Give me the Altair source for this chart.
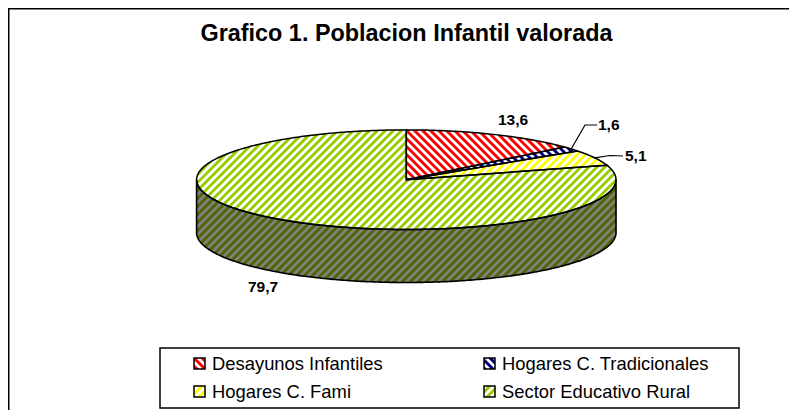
import numpy as np
import altair as alt

# ---- data ----
TITLE = "Grafico 1. Poblacion Infantil valorada"
CATEGORIES = ["Desayunos Infantiles", "Hogares C. Tradicionales", "Hogares C. Fami", "Sector Educativo Rural"]
VALUES = [13.6, 1.6, 5.1, 79.7]
VALUE_LABELS = ["13,6", "1,6", "5,1", "79,7"]
COLORS = ["#ff0000", "#000080", "#ffff00", "#99cc00"]
STRIPE_COLORS = ["#ffffff", "#ffffff", "#ffffff", "#ffffff"]
STRIPE_DIRS = [-1, -1, 1, 1]
WALL_COLOR = "#4f6600"
WALL_STRIPE = "#808080"

W, H = 781, 402
OX, OY = 8, 8           # page margin
CX, CY, RX, RY, DEPTH = 406.3 - OX, 179.7 - OY, 209.7, 49.8, 53.0
PERIOD, STRIPE_W = 8.0, 2.8

LABEL_X = [498 - OX, 598 - OX, 625 - OX, 248 - OX]
LABEL_Y = [120 - OY, 125 - OY, 156 - OY, 287 - OY]
LEGEND_BOX = [160 - OX, 348 - OY, 739 - OX, 408 - OY]
LEGEND_X = [194 - OX, 484 - OX, 194 - OX, 484 - OX]
LEGEND_Y = [363.5 - OY, 363.5 - OY, 391.5 - OY, 391.5 - OY]
SWATCH = 11


def ell(theta, dy=0.0):
    t = np.radians(theta)
    return (CX + RX * np.sin(t), CY - RY * np.cos(t) + dy)


def arc(a, b, dy=0.0):
    return [ell(t, dy) for t in np.linspace(a, b, max(3, int(abs(b - a) * 1.5)))]


def feat(kind, coords, fill="transparent", stroke="transparent", sw=0.0):
    return {"type": "Feature", "properties": {"fill": fill, "stroke": stroke, "sw": sw},
            "geometry": {"type": kind, "coordinates": coords}}


def poly(points, **kw):
    pts = [list(map(float, p)) for p in points]
    return feat("Polygon", [pts + [pts[0]]], **kw)


def line(points, **kw):
    return feat("LineString", [list(map(float, p)) for p in points], **kw)


def stripes(points, direction, color):
    """Hatch lines of a polygon: a line y = direction*-x + c cut along the polygon's edges."""
    pts = np.array(points, dtype=float)
    nxt = np.roll(pts, -1, axis=0)
    key = lambda p: p[..., 1] + direction * p[..., 0]
    ka, kb = key(pts), key(nxt)
    segs = []
    for c in np.arange(np.floor(ka.min() / PERIOD) * PERIOD, ka.max() + PERIOD, PERIOD):
        hits = []
        for i in range(len(pts)):
            if (ka[i] - c) * (kb[i] - c) < 0:
                f = (c - ka[i]) / (kb[i] - ka[i])
                hits.append(pts[i] + f * (nxt[i] - pts[i]))
        hits.sort(key=lambda p: p[0])
        for j in range(0, len(hits) - 1, 2):
            segs.append([[float(v) for v in hits[j]], [float(v) for v in hits[j + 1]]])
    return feat("MultiLineString", segs, stroke=color, sw=STRIPE_W) if segs else None


features = []
outlines = []

# side wall
wall = arc(90, 270) + arc(270, 90, DEPTH)
features.append(poly(wall, fill=WALL_COLOR))
features.append(stripes(wall, 1, WALL_STRIPE))
outlines.append(poly(wall, stroke="#000000", sw=1.6))

# top slices
angles = np.cumsum([0.0] + [v * 3.6 for v in VALUES])
for i, v in enumerate(VALUES):
    a, b = angles[i], angles[i + 1]
    s = [(CX, CY)] + arc(a, b)
    features.append(poly(s, fill=COLORS[i]))
    features.append(stripes(s, STRIPE_DIRS[i], STRIPE_COLORS[i]))
    outlines.append(poly(s, stroke="#000000", sw=1.5))

# leader lines, from the middle of each small slice's arc
mid = lambda i: ell((angles[i] + angles[i + 1]) / 2)
outlines.append(line([mid(1), (LABEL_X[1] - 13, LABEL_Y[1]), (LABEL_X[1] - 1, LABEL_Y[1])], stroke="#000000", sw=1.2))
outlines.append(line([mid(2), (LABEL_X[2] - 15, LABEL_Y[2] - 0.5), (LABEL_X[2] - 2, LABEL_Y[2])], stroke="#000000", sw=1.2))

# legend box and swatches
x0, y0, x1, y1 = LEGEND_BOX
outlines.append(poly([(x0, y0), (x1, y0), (x1, y1), (x0, y1)], stroke="#000000", sw=1.5))
for i in range(4):
    lx, ly = LEGEND_X[i], LEGEND_Y[i]
    sq = [(lx, ly - SWATCH / 2), (lx + SWATCH, ly - SWATCH / 2), (lx + SWATCH, ly + SWATCH / 2), (lx, ly + SWATCH / 2)]
    features.append(poly(sq, fill=COLORS[i]))
    features.append(stripes(sq, STRIPE_DIRS[i], STRIPE_COLORS[i]))
    outlines.append(poly(sq, stroke="#000000", sw=1.5))

# chart frame: only the top and left edges show
outlines.append(line([(0.75, H), (0.75, 0.75), (W, 0.75)], stroke="#000000", sw=1.5))

features = [f for f in features if f] + outlines

shapes = alt.Chart(alt.Data(values=features)).mark_geoshape().encode(
    fill=alt.Fill("properties.fill:N", scale=None),
    stroke=alt.Stroke("properties.stroke:N", scale=None),
    strokeWidth=alt.StrokeWidth("properties.sw:Q", scale=None),
).project(type="identity", scale=1, translate=[0, 0])

xs = alt.Scale(domain=[0, W], range=[0, W])
ys = alt.Scale(domain=[0, H], range=[0, H])


def text_layer(rows, size, bold, align="left"):
    return alt.Chart(alt.Data(values=rows)).mark_text(
        font="Liberation Sans", fontSize=size, fontWeight="bold" if bold else "normal",
        align=align, baseline="middle", color="#000000",
    ).encode(
        x=alt.X("x:Q", scale=xs, axis=None),
        y=alt.Y("y:Q", scale=ys, axis=None),
        text="t:N",
    )


title_layer = text_layer([{"x": 406.5 - OX, "y": 34 - OY, "t": TITLE}], 23.4, True, "center")
value_layer = text_layer([{"x": LABEL_X[i], "y": LABEL_Y[i], "t": VALUE_LABELS[i]} for i in range(4)], 15.5, True)
legend_layer = text_layer(
    [{"x": LEGEND_X[i] + 18, "y": LEGEND_Y[i], "t": CATEGORIES[i]} for i in range(4)], 18.4, False)

chart = alt.layer(shapes, title_layer, value_layer, legend_layer).properties(
    width=W, height=H, padding=0, background="#ffffff",
    autosize=alt.AutoSizeParams(type="none"),
).configure_view(stroke=None).resolve_scale(x="shared", y="shared")

chart.save("out.html", embed_options={"renderer": "svg", "actions": False})
